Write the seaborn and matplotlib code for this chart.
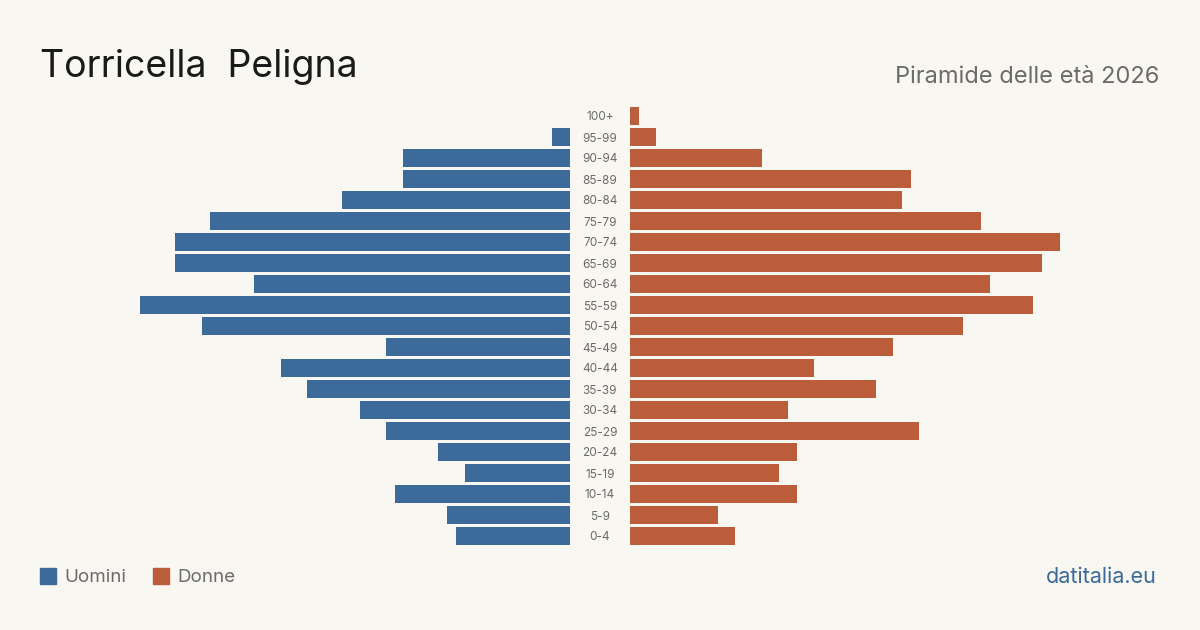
import matplotlib
matplotlib.use("Agg")
import matplotlib.pyplot as plt
import seaborn as sns
import pandas as pd
from matplotlib.patches import Rectangle

ages = ["100+", "95-99", "90-94", "85-89", "80-84", "75-79", "70-74", "65-69",
        "60-64", "55-59", "50-54", "45-49", "40-44", "35-39", "30-34", "25-29",
        "20-24", "15-19", "10-14", "5-9", "0-4"]
men = [0, 2, 19, 19, 26, 41, 45, 45, 36, 49, 42, 21, 33, 30, 24, 21, 15, 12, 20, 14, 13]
women = [1, 3, 15, 32, 31, 40, 49, 47, 41, 46, 38, 30, 21, 28, 18, 33, 19, 17, 19, 10, 12]

title = "Torricella  Peligna"
subtitle = "Piramide delle età 2026"
source = "datitalia.eu"

BG = "#f9f7f2"
BLUE = "#3b6a9b"
ORANGE = "#bb5c3b"
GRAY = "#6b6b6b"

sns.set_theme(style="white")
plt.rcParams["font.family"] = ["Inter", "DejaVu Sans"]

df = pd.DataFrame({"age": ages, "men": men, "women": women})

W, H = 1200, 630
fig = plt.figure(figsize=(W / 100, H / 100), dpi=100, facecolor=BG)

XMAX = 50
scale = 8.77
top_px, bot_px = 105.5, 546.5
axh = (bot_px - top_px) / H
axb = 1 - bot_px / H
left_w = XMAX * scale
axL = fig.add_axes([(570 - left_w) / W, axb, left_w / W, axh])
axR = fig.add_axes([630 / W, axb, left_w / W, axh])

sns.barplot(data=df, y="age", x="men", order=ages, color=BLUE, orient="h",
            width=0.81, ax=axL, saturation=1, linewidth=0, edgecolor="none")
sns.barplot(data=df, y="age", x="women", order=ages, color=ORANGE, orient="h",
            width=0.81, ax=axR, saturation=1, linewidth=0, edgecolor="none")

axL.set_xlim(XMAX, 0)
axR.set_xlim(0, XMAX)
for ax in (axL, axR):
    ax.set_ylim(len(ages) - 0.5, -0.5)
    ax.set_facecolor("none")
    ax.axis("off")

for i, a in enumerate(ages):
    y_px = 117.5 + i * 21
    fig.text(600 / W, 1 - y_px / H, a, ha="center", va="center",
             fontsize=8.5, color=GRAY)

fig.text(40 / W, 1 - 67 / H, title, ha="left", va="center", fontsize=27,
         color="#1a1a1a")
fig.text(1159 / W, 1 - 77 / H, subtitle, ha="right", va="center", fontsize=17,
         color=GRAY)

# legend
fig.patches.append(Rectangle((40 / W, 1 - 584 / H), 16 / W, 16 / H,
                             transform=fig.transFigure, color=BLUE, figure=fig))
fig.text(64 / W, 1 - 577.5 / H, "Uomini", ha="left", va="center", fontsize=13.5,
         color=GRAY)
fig.patches.append(Rectangle((153 / W, 1 - 584 / H), 16 / W, 16 / H,
                             transform=fig.transFigure, color=ORANGE, figure=fig))
fig.text(177 / W, 1 - 577.5 / H, "Donne", ha="left", va="center", fontsize=13.5,
         color=GRAY)

fig.text(1157 / W, 1 - 577 / H, source, ha="right", va="center", fontsize=15.5,
         color=BLUE)

fig.savefig("out.png", dpi=100, facecolor=BG)
